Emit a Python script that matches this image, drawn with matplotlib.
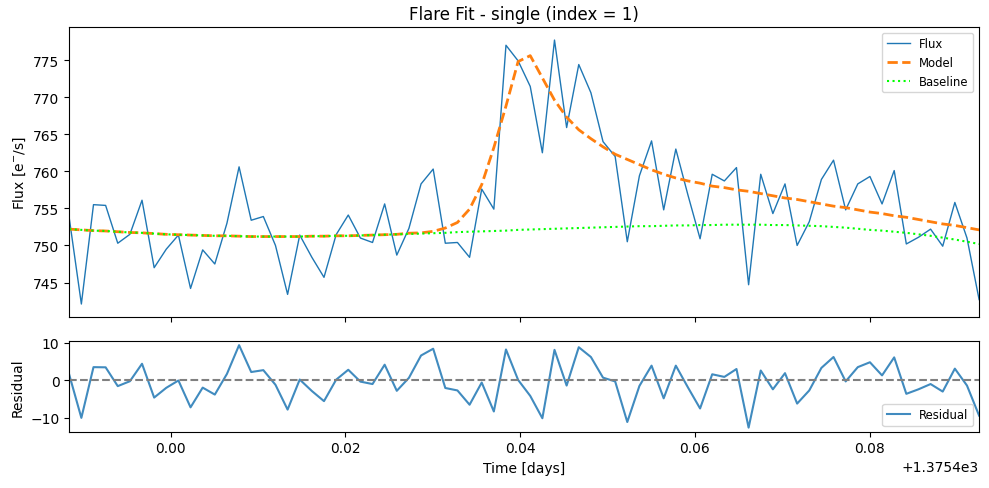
import matplotlib
matplotlib.use("Agg")
import matplotlib.pyplot as plt
import numpy as np

# 2-minute cadence light curve around the flare
t_start = 1375.38838
cadence = 2.0 / 1440.0

flux = [753.7, 742.1, 755.5, 755.4, 750.3, 751.5, 756.1, 747.0, 749.5, 751.4,
        744.2, 749.4, 747.5, 753.0, 760.6, 753.4, 753.9, 750.0, 743.4, 751.4,
        748.4, 745.7, 751.45, 754.1, 751.0, 750.4, 755.6, 748.7, 752.3, 758.3,
        760.3, 750.3, 750.4, 748.4, 757.6, 754.9, 777.0, 774.9, 771.45, 762.5,
        777.7, 765.9, 774.4, 770.6, 764.0, 762.0, 750.5, 759.4, 764.1, 754.8,
        763.0, 756.8, 750.9, 759.6, 758.7, 760.5, 744.7, 759.6, 754.3, 758.3,
        750.0, 753.2, 758.9, 761.5, 754.8, 758.3, 759.3, 755.6, 760.1, 750.2,
        751.1, 752.2, 749.9, 755.8, 751.0, 742.7]

baseline = [752.2, 752.1, 752.0, 751.95, 751.85, 751.75, 751.7, 751.6, 751.5, 751.45,
            751.4, 751.35, 751.3, 751.3, 751.25, 751.2, 751.2, 751.2, 751.2, 751.2,
            751.25, 751.25, 751.3, 751.3, 751.35, 751.4, 751.45, 751.5, 751.55, 751.6,
            751.65, 751.7, 751.8, 751.85, 751.9, 751.95, 752.0, 752.1, 752.15, 752.2,
            752.25, 752.3, 752.35, 752.4, 752.45, 752.5, 752.55, 752.6, 752.6, 752.65,
            752.7, 752.7, 752.75, 752.75, 752.8, 752.8, 752.8, 752.8, 752.75, 752.75,
            752.7, 752.65, 752.6, 752.5, 752.4, 752.25, 752.1, 752.0, 751.85, 751.7,
            751.5, 751.3, 751.05, 750.8, 750.5, 750.2]

model = [752.2, 752.1, 752.0, 751.95, 751.85, 751.75, 751.7, 751.6, 751.5, 751.45,
         751.4, 751.35, 751.3, 751.3, 751.25, 751.2, 751.2, 751.2, 751.2, 751.2,
         751.25, 751.25, 751.3, 751.3, 751.35, 751.4, 751.45, 751.5, 751.65, 751.7,
         751.9, 752.35, 753.1, 754.9, 758.2, 763.2, 768.8, 774.8, 775.6, 772.6,
         769.6, 767.3, 765.6, 764.4, 763.3, 762.3, 761.6, 760.9, 760.2, 759.6,
         759.1, 758.7, 758.4, 758.0, 757.8, 757.5, 757.3, 757.0, 756.7, 756.4,
         756.2, 755.9, 755.6, 755.3, 755.1, 754.8, 754.5, 754.3, 754.0, 753.8,
         753.5, 753.2, 752.9, 752.7, 752.4, 752.1]

time = t_start + cadence * np.arange(len(flux))
flux = np.array(flux)
model = np.array(model)
residual = flux - model

fig, (ax1, ax2) = plt.subplots(2, 1, figsize=(9.89, 4.89), dpi=100, sharex=True,
                               gridspec_kw={"height_ratios": [3.2, 1]})
fig.subplots_adjust(left=0.070, right=0.990, top=0.943, bottom=0.115, hspace=0.125)

ax1.plot(time, flux, color="tab:blue", lw=1, label="Flux")
ax1.plot(time, model, color="tab:orange", ls="--", lw=2, label="Model")
ax1.plot(time, baseline, color="lime", ls=":", lw=1.5, label="Baseline")
ax1.set_ylabel(r"Flux [e$^{-}$/s]")
ax1.set_title("Flare Fit - single (index = 1)")
ax1.legend(loc="upper right", fontsize="small")

ax2.plot(time, residual, color="tab:blue", alpha=0.85, lw=1.5, label="Residual")
ax2.axhline(0, color="gray", ls="--", lw=1.5)
ax2.set_ylabel("Residual")
ax2.set_xlabel("Time [days]")
ax2.legend(loc="lower right", fontsize="small")
ax2.set_xlim(time[0], time[-1])

plt.savefig("out.png", dpi=100)
